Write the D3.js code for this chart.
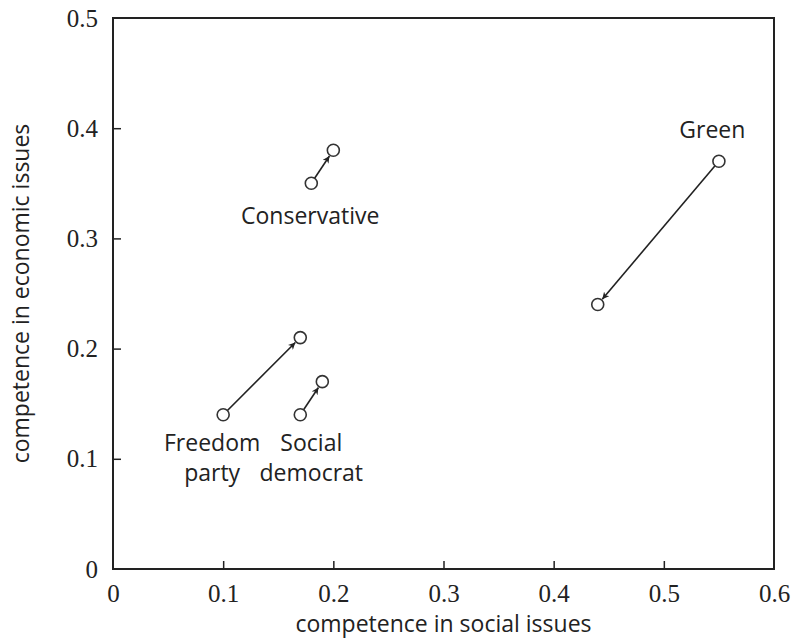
<!DOCTYPE html>
<html>
<head>
<meta charset="utf-8">
<script src="https://cdn.jsdelivr.net/npm/d3@7"></script>
<style>
  body { margin: 0; background: #fff; }
  .tick text { font-family: "Liberation Serif", serif; }
</style>
</head>
<body>
<svg id="chart" width="795" height="644"></svg>
<script>
// ---------------- data ----------------
var parties = ["Conservative", "Green", "Freedom party", "Social democrat"];
var socialFrom = [0.18, 0.55, 0.10, 0.17];
var economicFrom = [0.35, 0.37, 0.14, 0.14];
var socialTo = [0.20, 0.44, 0.17, 0.19];
var economicTo = [0.38, 0.24, 0.21, 0.17];
// label anchors in data units, one line per entry
var labelLines = [["Conservative"], ["Green"], ["Freedom", "party"], ["Social", "democrat"]];
var labelX = [0.179, 0.544, 0.090, 0.180];
var labelY = [0.313, 0.391, 0.107, 0.107];

var xTicks = [0, 0.1, 0.2, 0.3, 0.4, 0.5, 0.6];
var yTicks = [0, 0.1, 0.2, 0.3, 0.4, 0.5];

// ---------------- layout ----------------
var svg = d3.select("#chart");
var plotLeft = 113, plotRight = 774, plotTop = 18, plotBottom = 569;
var ink = "#222";
var sans = "'Open Sans', sans-serif";

var x = d3.scaleLinear().domain([0, 0.6]).range([plotLeft, plotRight]);
var y = d3.scaleLinear().domain([0, 0.5]).range([plotBottom, plotTop]);

// arrowhead
svg.append("defs").append("marker")
    .attr("id", "arrow")
    .attr("viewBox", "0 0 10 10")
    .attr("refX", 10).attr("refY", 5)
    .attr("markerWidth", 7).attr("markerHeight", 7)
    .attr("markerUnits", "userSpaceOnUse")
    .attr("orient", "auto")
  .append("path")
    .attr("d", "M0,0 L10,5 L0,10 L3,5 Z")
    .attr("fill", ink);

// axes, ticks pointing inward
var fmt = function(d) { return d === 0 ? "0" : d3.format(".1f")(d); };

var xAxis = svg.append("g")
    .attr("transform", "translate(0," + plotBottom + ")")
    .call(d3.axisBottom(x).tickValues(xTicks).tickSize(-8).tickPadding(15).tickFormat(fmt));

var yAxis = svg.append("g")
    .attr("transform", "translate(" + plotLeft + ",0)")
    .call(d3.axisLeft(y).tickValues(yTicks).tickSize(-8).tickPadding(15).tickFormat(fmt));

[xAxis, yAxis].forEach(function(a) {
  a.select(".domain").remove();
  a.selectAll(".tick line").attr("stroke", ink).attr("stroke-width", 1.5);
  a.selectAll(".tick text").style("font-size", "25px").attr("fill", ink);
});
xAxis.selectAll(".tick text").attr("dy", "0.71em");
// no inner tick at the box corners
xAxis.selectAll(".tick line").filter(function(d) { return d === 0 || d === 0.6; }).remove();
yAxis.selectAll(".tick line").filter(function(d) { return d === 0 || d === 0.5; }).remove();

// frame
svg.append("rect")
    .attr("x", plotLeft).attr("y", plotTop)
    .attr("width", plotRight - plotLeft).attr("height", plotBottom - plotTop)
    .attr("fill", "none").attr("stroke", ink).attr("stroke-width", 2);

// axis titles
svg.append("text")
    .attr("x", (plotLeft + plotRight) / 2).attr("y", 632)
    .attr("text-anchor", "middle")
    .style("font-family", sans).style("font-size", "23px")
    .attr("fill", ink)
    .text("competence in social issues");

svg.append("text")
    .attr("transform", "translate(29," + (plotTop + plotBottom) / 2 + ") rotate(-90)")
    .attr("text-anchor", "middle")
    .style("font-family", sans).style("font-size", "23px")
    .attr("fill", ink)
    .text("competence in economic issues");

// moves
var r = 6;
var moves = parties.map(function(p, i) {
  return { name: p, x0: socialFrom[i], y0: economicFrom[i], x1: socialTo[i], y1: economicTo[i] };
});

svg.selectAll(".move")
    .data(moves)
    .enter().append("line")
    .attr("class", "move")
    .each(function(d) {
      var ax = x(d.x0), ay = y(d.y0), bx = x(d.x1), by = y(d.y1);
      var len = Math.sqrt((bx - ax) * (bx - ax) + (by - ay) * (by - ay));
      var ux = (bx - ax) / len, uy = (by - ay) / len;
      d3.select(this)
        .attr("x1", ax + ux * r).attr("y1", ay + uy * r)
        .attr("x2", bx - ux * (r + 1)).attr("y2", by - uy * (r + 1));
    })
    .attr("stroke", ink).attr("stroke-width", 1.6)
    .attr("marker-end", "url(#arrow)");

var pts = [];
moves.forEach(function(d) { pts.push([d.x0, d.y0]); pts.push([d.x1, d.y1]); });

svg.selectAll(".pt")
    .data(pts)
    .enter().append("circle")
    .attr("class", "pt")
    .attr("cx", function(d) { return x(d[0]); })
    .attr("cy", function(d) { return y(d[1]); })
    .attr("r", r)
    .attr("fill", "#fff")
    .attr("stroke", "#333").attr("stroke-width", 1.6);

// labels
var labels = svg.selectAll(".lbl")
    .data(parties)
    .enter().append("text")
    .attr("class", "lbl")
    .attr("text-anchor", "middle")
    .style("font-family", sans).style("font-size", "23px")
    .attr("fill", ink);

labels.each(function(p, i) {
  var t = d3.select(this);
  labelLines[i].forEach(function(line, j) {
    t.append("tspan")
      .attr("x", x(labelX[i]))
      .attr("y", y(labelY[i]) + j * 30)
      .text(line);
  });
});
</script>
</body>
</html>
